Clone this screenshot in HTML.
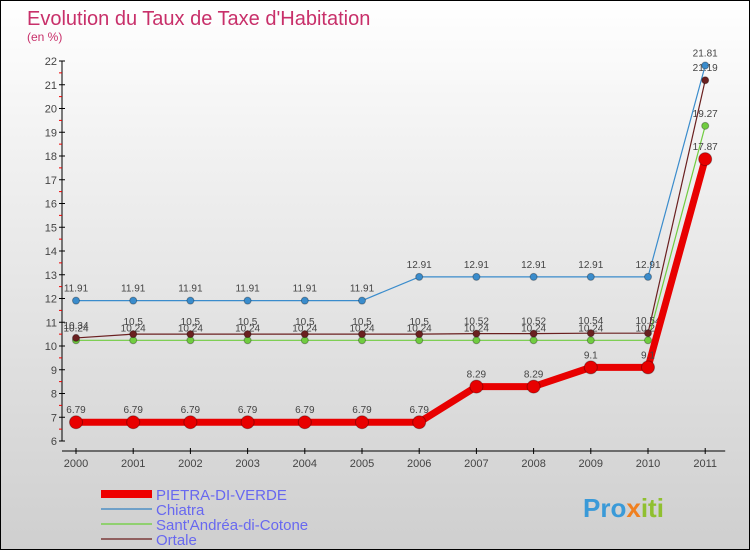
<!DOCTYPE html>
<html><head><meta charset="utf-8"><style>
body{margin:0}
#c{width:748px;height:548px;border:1px solid #000;background:linear-gradient(#fff,#f0f0f0 30%,#cfcfcf);position:relative;font-family:"Liberation Sans",sans-serif}
</style></head><body>
<div id="c">
<svg id="s" width="748" height="548" xmlns="http://www.w3.org/2000/svg">
<text x="26" y="24" font-size="20" fill="#c8306a">Evolution du Taux de Taxe d'Habitation</text>
<text x="26" y="40" font-size="12" fill="#c8306a">(en %)</text>
<g id="ax"></g><g id="ser"></g>
<g>
<rect x="100" y="489" width="51" height="8" fill="#e00"/>
<text x="155" y="499" font-size="15" fill="#6868f0">PIETRA-DI-VERDE</text>
<line x1="100" y1="508" x2="151" y2="508" stroke="#6fa0c8" stroke-width="2"/>
<text x="155" y="514" font-size="15" fill="#6868f0">Chiatra</text>
<line x1="100" y1="523" x2="151" y2="523" stroke="#90d070" stroke-width="2"/>
<text x="155" y="529" font-size="15" fill="#6868f0">Sant'Andréa-di-Cotone</text>
<line x1="100" y1="538" x2="151" y2="538" stroke="#906060" stroke-width="2"/>
<text x="155" y="544" font-size="15" fill="#6868f0">Ortale</text>
</g>
<text x="582" y="516" font-size="26" font-weight="bold" fill="#3a9ad8">Pro<tspan fill="#f08020">x</tspan><tspan fill="#90c030">iti</tspan></text>
</svg></div>
<script>
const years=["2000","2001","2002","2003","2004","2005","2006","2007","2008","2009","2010","2011"];
const yTicks=[6,7,8,9,10,11,12,13,14,15,16,17,18,19,20,21,22];
const pietra=[6.79,6.79,6.79,6.79,6.79,6.79,6.79,8.29,8.29,9.1,9.1,17.87];
const chiatra=[11.91,11.91,11.91,11.91,11.91,11.91,12.91,12.91,12.91,12.91,12.91,21.81];
const santAndrea=[10.24,10.24,10.24,10.24,10.24,10.24,10.24,10.24,10.24,10.24,10.24,19.27];
const ortale=[10.34,10.5,10.5,10.5,10.5,10.5,10.5,10.52,10.52,10.54,10.54,21.19];
const NS="http://www.w3.org/2000/svg";
const X=i=>75+i*57.2, Y=v=>440-(v-6)*23.75;
function mk(t,a,p){const e=document.createElementNS(NS,t);for(const k in a)e.setAttribute(k,a[k]);p.appendChild(e);return e;}
const ax=document.getElementById('ax');
let l=mk('line',{x1:61,y1:Y(22),x2:61,y2:Y(6),stroke:'#000'},ax);


l=mk('line',{x1:61,y1:450,x2:X(11)+20,y2:450,stroke:'#000'},ax);


yTicks.forEach(v=>{mk('line',{x1:58,y1:Y(v),x2:64,y2:Y(v),stroke:'#000'},ax);
 if(v<22)mk('line',{x1:58,y1:Y(v+0.5),x2:61,y2:Y(v+0.5),stroke:'#e00'},ax);
 const t=mk('text',{x:56,y:Y(v)+4,'font-size':11,fill:'#444','text-anchor':'end'},ax);t.textContent=v;
 
 });
years.forEach((y,i)=>{mk('line',{x1:X(i),y1:447,x2:X(i),y2:453,stroke:'#000'},ax);
 const t=mk('text',{x:X(i),y:466,'font-size':11,fill:'#444','text-anchor':'middle'},ax);t.textContent=y;
 
 });
const ser=document.getElementById('ser');
function draw(d,col,w,r,name){const g=mk('g',{},ser);
 
 
 mk('polyline',{points:d.map((v,i)=>X(i)+','+Y(v)).join(' '),fill:'none',stroke:col,'stroke-width':w,'stroke-linejoin':'round'},g);
 d.forEach((v,i)=>{const c=mk('circle',{cx:X(i),cy:Y(v),r:r,fill:col,stroke:'rgba(0,0,0,0.3)'},g);
  
  
  const t=mk('text',{x:X(i),y:Y(v)-9,'font-size':10,fill:'#444','text-anchor':'middle'},g);t.textContent=v;});}
draw(chiatra,'#3a8ccc',1.2,3.5,'chiatra');
draw(santAndrea,'#70cc40',1.2,3.5,'sant-andrea');
draw(ortale,'#6a2020',1.2,3.5,'ortale');
draw(pietra,'#e80000',7,6.5,'pietra');
</script>
</body></html>
